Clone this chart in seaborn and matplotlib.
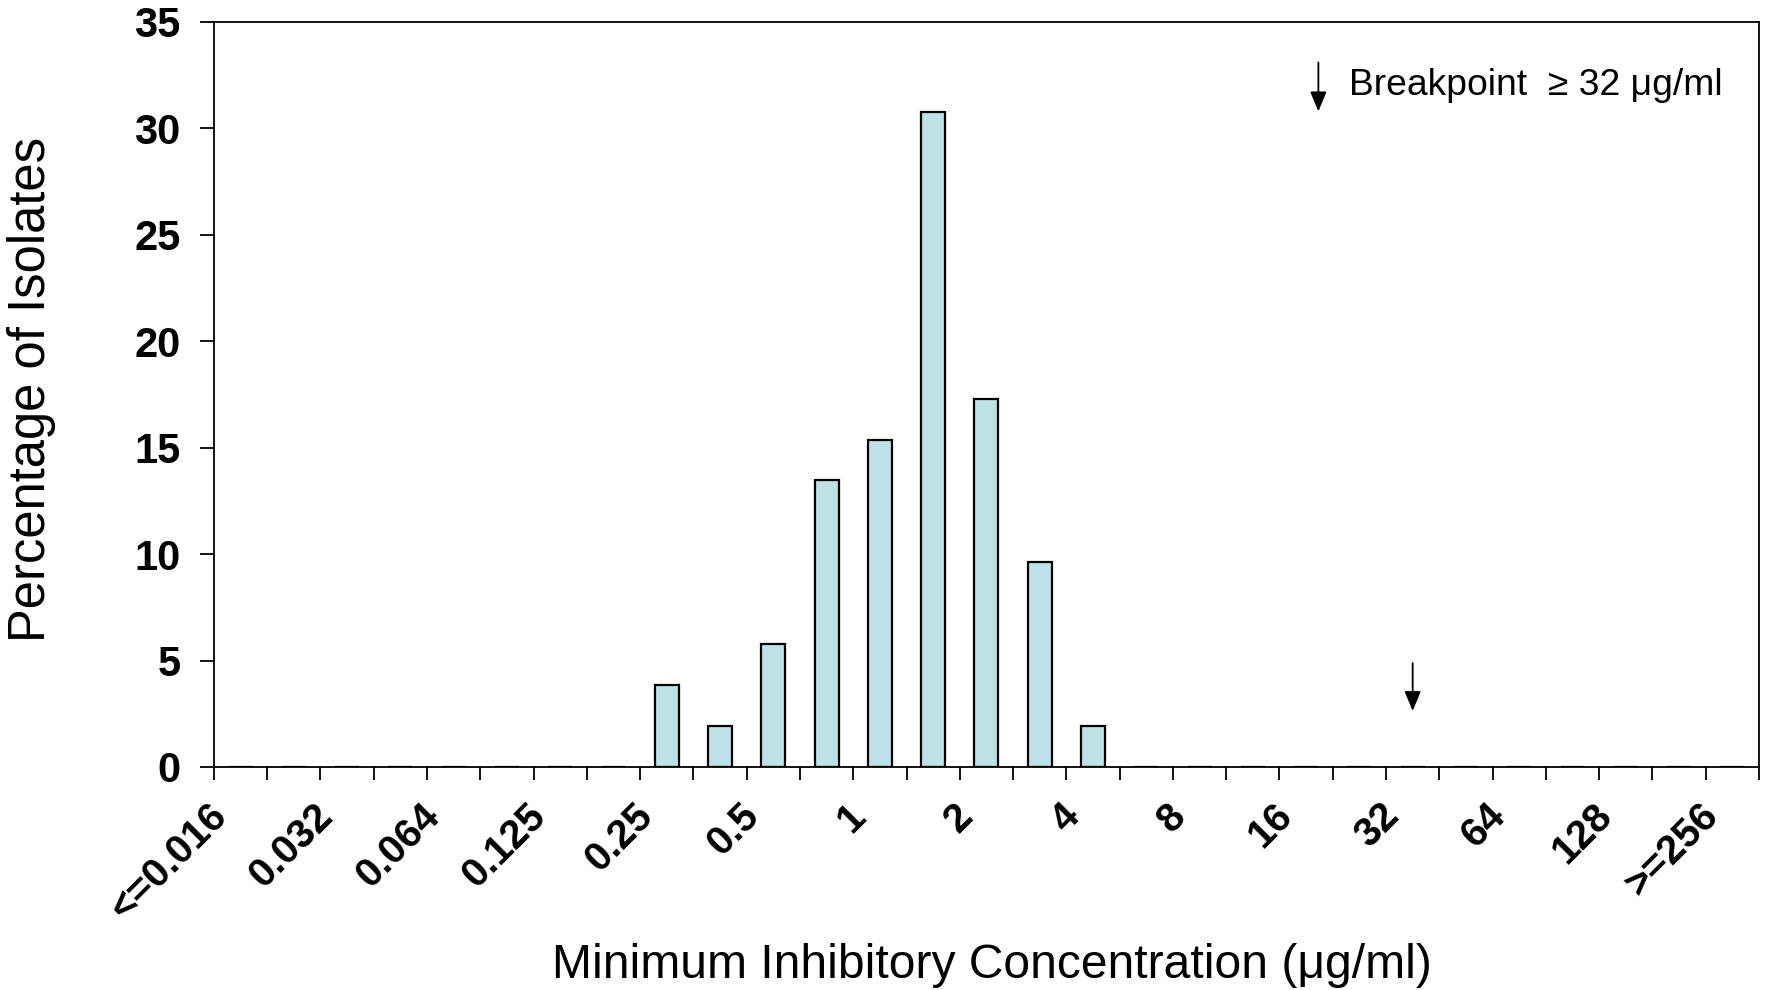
import numpy as np
import matplotlib
matplotlib.use("Agg")
import matplotlib.pyplot as plt
import matplotlib.transforms as mtransforms
import pandas as pd
import seaborn as sns

# MIC categories (Etest scale, every other one gets a label)
categories = ["0.016", "0.023", "0.032", "0.047", "0.064", "0.094", "0.125", "0.19",
              "0.25", "0.38", "0.5", "0.75", "1", "1.5", "2", "3", "4", "6", "8",
              "12", "16", "24", "32", "48", "64", "96", "128", "192", "256"]
tick_labels = ["<=0.016", "0.032", "0.064", "0.125", "0.25", "0.5", "1", "2",
               "4", "8", "16", "32", "64", "128", ">=256"]
# percentage of isolates per MIC
percent = [0, 0, 0, 0, 0, 0, 0, 0,
           3.85, 1.92, 5.77, 13.46, 15.38, 30.77, 17.31, 9.62, 1.92, 0, 0,
           0, 0, 0, 0, 0, 0, 0, 0, 0, 0]
breakpoint_mic = "32"

df = pd.DataFrame({"MIC": categories, "Percentage": percent})

sns.set_style("white")
plt.rcParams["font.family"] = ["Liberation Sans", "DejaVu Sans"]
plt.rcParams["text.color"] = "black"
plt.rcParams["xtick.color"] = "black"
plt.rcParams["ytick.color"] = "black"

fig = plt.figure(figsize=(17.68, 9.9), dpi=100)
ax = fig.add_axes([0.1210, 0.2253, 0.8739, 0.7525])

sns.barplot(data=df, x="MIC", y="Percentage", order=categories, color="#bde1e4",
            saturation=1, width=0.45, edgecolor="black", linewidth=1.6, ax=ax)

ax.set_ylim(0, 35)
ax.set_xlim(-0.5, len(categories) - 0.5)
ax.set_yticks(np.arange(0, 36, 5))
ax.set_yticklabels([str(v) for v in range(0, 36, 5)], fontsize=30, fontweight="bold")
ax.tick_params(axis="y", direction="out", length=10, width=1.3, pad=14, left=True)

# tick marks on category boundaries, labels on every other category
ax.set_xticks(np.arange(-0.5, len(categories), 1))
ax.set_xticklabels([])
ax.tick_params(axis="x", which="major", direction="out", length=9, width=1.3, bottom=True)
ax.set_xticks(np.arange(0, len(categories), 2), minor=True)
ax.set_xticklabels(tick_labels, minor=True, rotation=45, ha="right", va="center",
                   rotation_mode="anchor", fontsize=29, fontweight="bold")
ax.tick_params(axis="x", which="minor", length=0, pad=31)
shift = mtransforms.ScaledTranslation(-20 / 100, 0, fig.dpi_scale_trans)
for lab in ax.get_xticklabels(minor=True):
    lab.set_transform(lab.get_transform() + shift)

for sp in ax.spines.values():
    sp.set_visible(True)
    sp.set_linewidth(1.3)
    sp.set_color("black")

ax.set_xlabel("")
ax.set_ylabel("")
fig.text(32 / 1768, 1 - 389 / 990, "Percentage of Isolates", rotation=90,
         ha="center", va="center", fontsize=36.5)
fig.text(992 / 1768, 1 - 966 / 990, "Minimum Inhibitory Concentration (\u03bcg/ml)",
         ha="center", va="center", fontsize=34.6)

# breakpoint legend and arrow
arrow = dict(arrowstyle="-|>,head_length=0.6,head_width=0.25", color="black",
             lw=1.3, shrinkA=0, shrinkB=0, mutation_scale=20)
ax.annotate("", xy=(20.23, 30.8), xytext=(20.23, 33.1), arrowprops=arrow)
ax.text(20.8, 32.0, "Breakpoint  \u2265 32 \u03bcg/ml", ha="left", va="center", fontsize=26.8)
bp = categories.index(breakpoint_mic)
ax.annotate("", xy=(bp, 2.63), xytext=(bp, 4.88), arrowprops=arrow)

fig.savefig("out.png", dpi=100)
